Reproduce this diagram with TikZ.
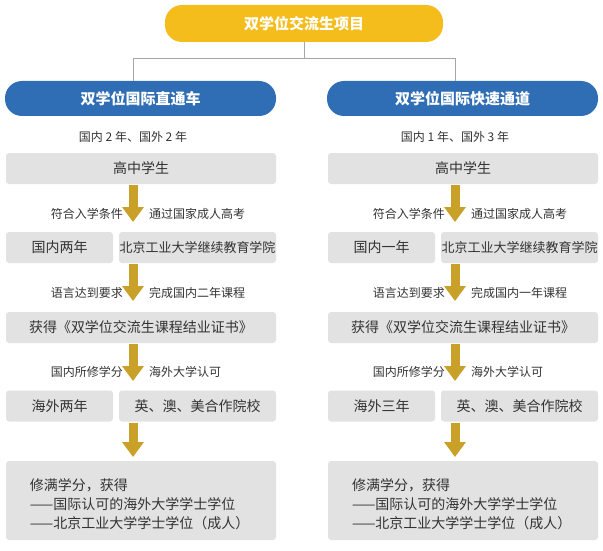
\documentclass[tikz,border=0pt]{standalone}
\usepackage{fontspec}
\setmainfont{Noto Sans CJK SC}
\usetikzlibrary{arrows.meta}
\definecolor{gy}{HTML}{E2E2E2}
\definecolor{yl}{HTML}{F4BD1C}
\definecolor{bl}{HTML}{2F6DB5}
\definecolor{gd}{HTML}{C9A128}
\definecolor{tx}{HTML}{333333}
\tikzset{
 box/.style={fill=gy,rounded corners=3pt,text=tx,font=\fontsize{14}{19}\selectfont,inner sep=0pt},
 lbl/.style={text=tx,font=\fontsize{12}{13}\selectfont,inner sep=0pt},
 garrow/.style={gd,line width=9pt,-{Triangle[width=21pt,length=15pt]}},
 conn/.style={draw=gray!70,line width=0.6pt},
 pill/.style={rounded corners=17pt,text=white,font=\bfseries\fontsize{15}{17}\selectfont},
 fin/.style={text=tx,font=\fontsize{14}{19}\selectfont,inner sep=0pt,anchor=west,align=left}
}
\newcommand{\bx}[6]{\node[box,minimum width=#3pt,minimum height=#4pt,#6] (#1) at (#2) {#5};}
\begin{document}
\begin{tikzpicture}[x=1pt,y=-1pt]
\useasboundingbox (0,0) rectangle (603,551);
\node[pill,fill=yl,minimum width=278pt,minimum height=37pt] (top) at (304,23.5) {双学位交流生项目};
\node[pill,fill=bl,minimum width=271pt,minimum height=35pt] (L) at (140.5,98.5) {双学位国际直通车};
\node[pill,fill=bl,minimum width=271pt,minimum height=35pt] (R) at (462.5,98.5) {双学位国际快速通道};
\coordinate (j) at (304,58);
\coordinate (jl) at (133,58);
\coordinate (jr) at (455,58);
\draw[conn] (top.south) -- (j) (jl) -- (jr) (jl) -- (jl |- L.north) (jr) -- (jr |- R.north);
% left
\node[lbl] (Lt) at (133,137) {国内 2 年、国外 2 年};
\bx{L1}{141,168.5}{270}{31}{高中学生}{}
\node[lbl,anchor=east] (La1) at (123,214) {符合入学条件};
\node[lbl,anchor=west] (Lb1) at (149,214) {通过国家成人高考};
\bx{L2a}{59.5,247.5}{107}{31}{国内两年}{}
\bx{L2b}{197.5,247.5}{157}{31}{\fontsize{13}{15}\selectfont 北京工业大学继续教育学院}{}
\node[lbl,anchor=east] (La2) at (123,293) {语言达到要求};
\node[lbl,anchor=west] (Lb2) at (149,293) {完成国内二年课程};
\bx{L3}{141,327.5}{270}{31}{获得《双学位交流生课程结业证书》}{}
\node[lbl,anchor=east] (La3) at (123,372) {国内所修学分};
\node[lbl,anchor=west] (Lb3) at (149,372) {海外大学认可};
\bx{L4a}{59.5,406}{107}{31}{海外两年}{}
\bx{L4b}{197.5,406}{157}{31}{英、澳、美合作院校}{}
\bx{L5}{141,500.5}{270}{79}{}{}
\node[fin] (L5t) at ([xshift=24pt,yshift=-4pt]L5.west) {修满学分，获得\\——国际认可的海外大学学士学位\\——北京工业大学学士学位（成人）};
\draw[garrow] (133,185) -- (133,222);
\draw[garrow] (133,264) -- (133,301);
\draw[garrow] (133,344) -- (133,381);
\draw[garrow] (133,423) -- (133,457);
% right
\node[lbl] (Rt) at (455,137) {国内 1 年、国外 3 年};
\bx{R1}{463,168.5}{270}{31}{高中学生}{}
\node[lbl,anchor=east] (Ra1) at (445,214) {符合入学条件};
\node[lbl,anchor=west] (Rb1) at (471,214) {通过国家成人高考};
\bx{R2a}{381.5,247.5}{107}{31}{国内一年}{}
\bx{R2b}{519.5,247.5}{157}{31}{\fontsize{13}{15}\selectfont 北京工业大学继续教育学院}{}
\node[lbl,anchor=east] (Ra2) at (445,293) {语言达到要求};
\node[lbl,anchor=west] (Rb2) at (471,293) {完成国内一年课程};
\bx{R3}{463,327.5}{270}{31}{获得《双学位交流生课程结业证书》}{}
\node[lbl,anchor=east] (Ra3) at (445,372) {国内所修学分};
\node[lbl,anchor=west] (Rb3) at (471,372) {海外大学认可};
\bx{R4a}{381.5,406}{107}{31}{海外三年}{}
\bx{R4b}{519.5,406}{157}{31}{英、澳、美合作院校}{}
\bx{R5}{463,500.5}{270}{79}{}{}
\node[fin] (R5t) at ([xshift=24pt,yshift=-4pt]R5.west) {修满学分，获得\\——国际认可的海外大学学士学位\\——北京工业大学学士学位（成人）};
\draw[garrow] (455,185) -- (455,222);
\draw[garrow] (455,264) -- (455,301);
\draw[garrow] (455,344) -- (455,381);
\draw[garrow] (455,423) -- (455,457);
\end{tikzpicture}
\end{document}
